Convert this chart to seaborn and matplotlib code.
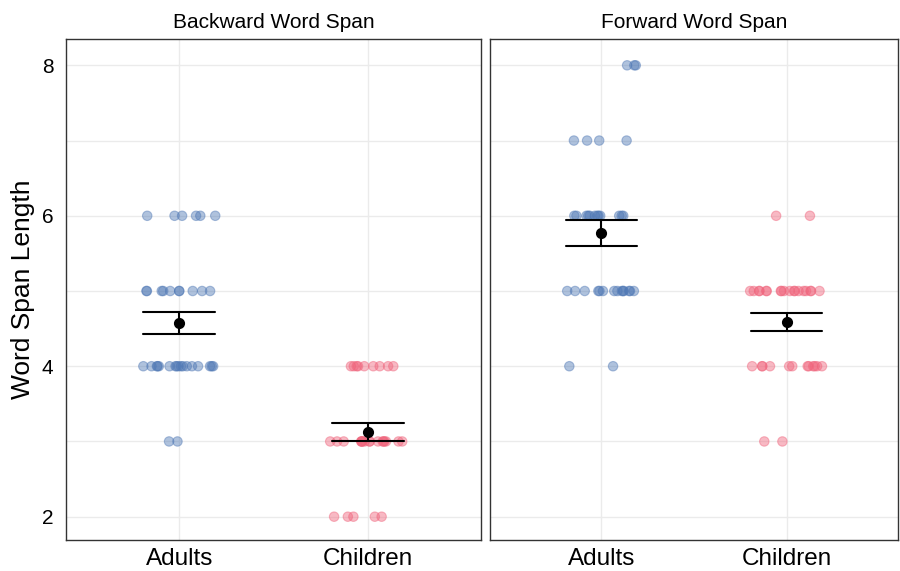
import numpy as np
import pandas as pd
import matplotlib
matplotlib.use("Agg")
import matplotlib.pyplot as plt
from matplotlib.ticker import FixedLocator
import seaborn as sns

np.random.seed(7)

groups = ["Adults", "Children"]
panels = ["Backward Word Span", "Forward Word Span"]

bw_adults = [6, 6, 6, 6, 6, 6,
             5, 5, 5, 5, 5, 5, 5, 5, 5, 5,
             4, 4, 4, 4, 4, 4, 4, 4, 4, 4, 4, 4, 4, 4, 4, 4, 4,
             3, 3]
bw_children = [4, 4, 4, 4, 4, 4, 4, 4, 4,
               3, 3, 3, 3, 3, 3, 3, 3, 3, 3, 3, 3, 3, 3, 3, 3, 3,
               2, 2, 2, 2, 2]
fw_adults = [8, 8, 8,
             7, 7, 7, 7,
             6, 6, 6, 6, 6, 6, 6, 6, 6, 6, 6, 6,
             5, 5, 5, 5, 5, 5, 5, 5, 5, 5, 5, 5, 5, 5,
             4, 4]
fw_children = [6, 6,
               5, 5, 5, 5, 5, 5, 5, 5, 5, 5, 5, 5, 5, 5, 5, 5, 5, 5,
               4, 4, 4, 4, 4, 4, 4, 4, 4, 4, 4, 4,
               3, 3]

series = {
    ("Backward Word Span", "Adults"): bw_adults,
    ("Backward Word Span", "Children"): bw_children,
    ("Forward Word Span", "Adults"): fw_adults,
    ("Forward Word Span", "Children"): fw_children,
}
rows = []
for (task, grp), vals in series.items():
    for v in vals:
        rows.append({"task": task, "group": grp, "span": v})
df = pd.DataFrame(rows)

palette = {"Adults": "#4f78b5", "Children": "#f0647c"}

sns.set_theme(style="white")
plt.rcParams["font.family"] = ["Liberation Sans", "DejaVu Sans"]

fig = plt.figure(figsize=(9, 5.71), dpi=100)
W, H = 900, 571
boxes = [(66, 481), (490, 898)]
top, bottom = 39, 540

for i, task in enumerate(panels):
    x0, x1 = boxes[i]
    ax = fig.add_axes([x0 / W, (H - bottom) / H, (x1 - x0) / W, (bottom - top) / H])
    sub = df[df["task"] == task]
    sns.stripplot(data=sub, x="group", y="span", hue="group", order=groups,
                  hue_order=groups, palette=palette, jitter=0.2, size=6.8,
                  alpha=0.45, linewidth=0.8, edgecolor="face", legend=False, ax=ax,
                  zorder=3)
    sns.pointplot(data=sub, x="group", y="span", order=groups, errorbar="se",
                  color="black", linestyle="none", markersize=6.0, capsize=0.38,
                  err_kws={"linewidth": 1.5}, ax=ax, zorder=4)
    ax.set_xlim(-0.6, 1.6)
    ax.set_ylim(1.69, 8.35)
    ax.yaxis.set_major_locator(FixedLocator([2, 4, 6, 8]))
    ax.yaxis.set_minor_locator(FixedLocator([3, 5, 7]))
    ax.grid(True, which="both", axis="y", color="#ebebeb", linewidth=1.0, zorder=0)
    ax.grid(True, which="major", axis="x", color="#ebebeb", linewidth=1.0, zorder=0)
    ax.set_axisbelow(True)
    ax.tick_params(axis="both", which="both", length=0)
    ax.tick_params(axis="x", labelsize=17.5, pad=6, labelcolor="black")
    ax.set_xlabel("")
    if i == 0:
        ax.tick_params(axis="y", labelsize=15, pad=9, labelcolor="black")
        ax.set_ylabel("Word Span Length", fontsize=19, color="black")
        ax.yaxis.set_label_coords(-0.075, 0.5)
    else:
        ax.set_yticklabels([])
        ax.set_ylabel("")
    for s in ax.spines.values():
        s.set_visible(True)
        s.set_color("#333333")
        s.set_linewidth(1.0)
    ax.set_title(task, fontsize=15, pad=8, color="black")

fig.savefig("out.png", dpi=100, facecolor="white")
